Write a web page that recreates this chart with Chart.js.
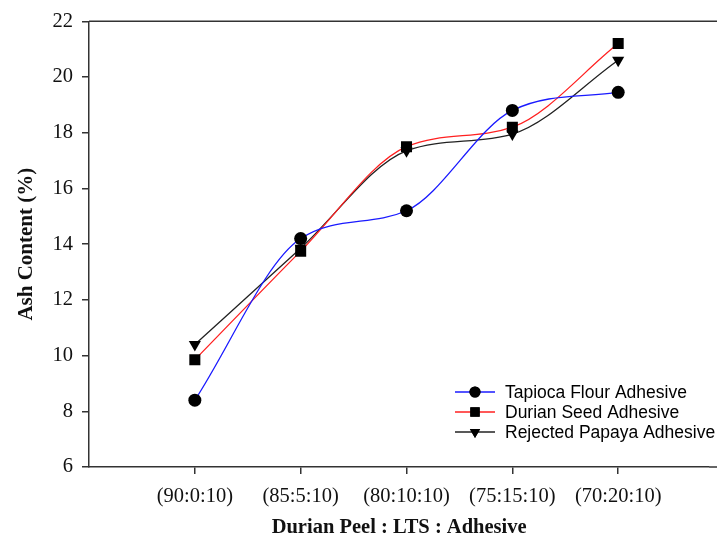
<!DOCTYPE html>
<html>
<head>
<meta charset="utf-8">
<script src="https://cdn.jsdelivr.net/npm/chart.js@4"></script>
<style>
  html, body { margin: 0; padding: 0; background: #fff; }
  #wrap { width: 717px; height: 542px; }
</style>
</head>
<body>
<div id="wrap"><canvas id="c" width="717" height="542"></canvas></div>
<script>
// ratios on the x axis
const categories = ["(90:0:10)", "(85:5:10)", "(80:10:10)", "(75:15:10)", "(70:20:10)"]
const seriesNames = ["Tapioca Flour Adhesive", "Durian Seed Adhesive", "Rejected Papaya Adhesive"]
const tapioca = [8.4, 14.2, 15.2, 18.8, 19.45]
const durianSeed = [9.85, 13.75, 17.5, 18.2, 21.2]
const papaya = [10.4, 13.85, 17.35, 17.95, 20.6]
const yTicks = [6, 8, 10, 12, 14, 16, 18, 20, 22]

const serif = "'Liberation Serif', 'Times New Roman', serif"
const sans = "'Liberation Sans', Arial, sans-serif"

const toPoints = (vals) => vals.map((v, i) => ({ x: i + 1, y: v }))

const styles = [
  { color: "#1a1aff", pointStyle: "circle", radius: 6.5, rotation: 0 },
  { color: "#ff2020", pointStyle: "rect", radius: 7.8, rotation: 0 },
  { color: "#222222", pointStyle: "triangle", radius: 7, rotation: 180 },
]

const seriesData = [tapioca, durianSeed, papaya]

// legend drawn inside the plot + top frame line
const framePlugin = {
  id: "frame",
  afterDraw(chart) {
    const { ctx, chartArea } = chart
    ctx.save()
    ctx.strokeStyle = "#333"
    ctx.lineWidth = 1.5
    ctx.beginPath()
    ctx.moveTo(chartArea.left, chartArea.top)
    ctx.lineTo(717, chartArea.top)
    ctx.stroke()
    ctx.beginPath()
    ctx.moveTo(chartArea.right, chartArea.bottom)
    ctx.lineTo(717, chartArea.bottom)
    ctx.stroke()

    ctx.font = "17.5px " + sans
    ctx.textBaseline = "middle"
    seriesNames.forEach((name, i) => {
      const y = 392 + i * 20
      const st = styles[i]
      ctx.strokeStyle = st.color
      ctx.lineWidth = 1.3
      ctx.beginPath()
      ctx.moveTo(455, y)
      ctx.lineTo(495, y)
      ctx.stroke()
      ctx.fillStyle = "#000"
      Chart.helpers.drawPoint(ctx, {
        pointStyle: st.pointStyle,
        rotation: st.rotation,
        radius: st.radius * 0.85,
        borderWidth: 0,
      }, 475, y)
      ctx.fill()
      ctx.fillStyle = "#000"
      ctx.fillText(name, 505, y + 1)
    })
    ctx.restore()
  },
}

new Chart(document.getElementById("c"), {
  type: "line",
  data: {
    datasets: seriesNames.map((name, i) => ({
      label: name,
      data: toPoints(seriesData[i]),
      borderColor: styles[i].color,
      borderWidth: 1.3,
      cubicInterpolationMode: "monotone",
      pointStyle: styles[i].pointStyle,
      pointRotation: styles[i].rotation,
      pointRadius: styles[i].radius,
      pointBackgroundColor: "#000",
      pointBorderColor: "#000",
      pointBorderWidth: 0,
    })),
  },
  options: {
    responsive: false,
    animation: false,
    layout: { padding: { top: 21, right: 0, left: 0, bottom: 0 } },
    plugins: {
      legend: { display: false },
      tooltip: { enabled: false },
    },
    scales: {
      x: {
        type: "linear",
        min: 0,
        max: 5.86,
        afterBuildTicks: (axis) => {
          axis.ticks = categories.map((c, i) => ({ value: i + 1 }))
        },
        afterFit: (axis) => { axis.height = 75 },
        ticks: {
          callback: (v) => categories[v - 1] || "",
          color: "#111",
          font: { family: serif, size: 20.5 },
          padding: 10,
          maxRotation: 0,
          autoSkip: false,
        },
        grid: { drawOnChartArea: false, tickLength: 7, color: "#333", lineWidth: 1.5 },
        border: { color: "#333", width: 1.5 },
        title: {
          display: true,
          text: "Durian Peel : LTS : Adhesive",
          color: "#111",
          font: { family: serif, size: 20.5, weight: "bold" },
          padding: { top: 0, bottom: 2 },
        },
      },
      y: {
        min: 6,
        max: 22,
        afterBuildTicks: (axis) => {
          axis.ticks = yTicks.map((v) => ({ value: v }))
        },
        afterFit: (axis) => { axis.width = 89 },
        ticks: {
          color: "#111",
          font: { family: serif, size: 20.5 },
          padding: 9,
        },
        grid: { drawOnChartArea: false, tickLength: 7, color: "#333", lineWidth: 1.5 },
        border: { color: "#333", width: 1.5 },
        title: {
          display: true,
          text: "Ash Content (%)",
          color: "#111",
          font: { family: serif, size: 21, weight: "bold" },
          padding: { top: 14, bottom: 0 },
        },
      },
    },
  },
  plugins: [framePlugin],
})
</script>
</body>
</html>
